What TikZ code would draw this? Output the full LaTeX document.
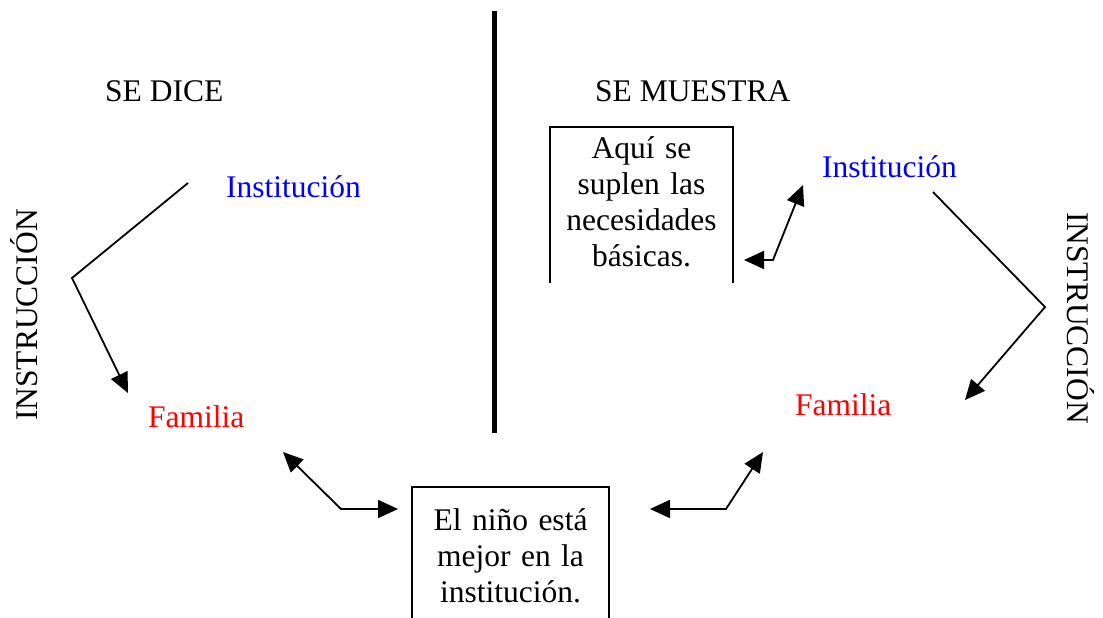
\documentclass[tikz,border=0pt]{standalone}
\usepackage{fontspec}
\setmainfont{Liberation Serif}
\usetikzlibrary{arrows.meta}
\tikzset{
  lbl/.style={inner sep=0pt, font=\fontsize{31.5}{36}\selectfont},
  boxtxt/.style={lbl, align=center},
  frame/.style={line width=2pt},
  conn/.style={line width=1.8pt, line join=miter},
  onehead/.style={-{Triangle[length=20pt,width=18pt]}},
  twohead/.style={{Triangle[length=20pt,width=18pt]}-{Triangle[length=20pt,width=18pt]}},
}
\begin{document}
\begin{tikzpicture}[x=1pt,y=-1pt]
\useasboundingbox (0,0) rectangle (1103,618);
% divider
\draw[line width=5pt] (494.5,11) -- (494.5,433);
% headings
\node[lbl, anchor=base west] (dice) at (105,101) {SE DICE};
\node[lbl, anchor=base west] (muestra) at (595,102) {SE MUESTRA};
\node[lbl, anchor=base west, text=blue] (instL) at (226,197) {Institución};
\node[lbl, anchor=base west, text=red] (famL) at (148,427) {Familia};
\node[lbl, anchor=base west, text=blue] (instR) at (822,177) {Institución};
\node[lbl, anchor=base west, text=red] (famR) at (795,415) {Familia};
\node[lbl, anchor=base west, rotate=90] (instrL) at (37,421) {INSTRUCCIÓN};
\node[lbl, anchor=base west, rotate=-90] (instrR) at (1067,212) {INSTRUCCIÓN};
% boxes, open at the bottom
\node[boxtxt, text width=183pt, inner ysep=9pt, anchor=north] (suplen) at (641.5,127) {Aquí se\\suplen las\\necesidades\\básicas.};
\draw[frame] ([yshift=-156pt]suplen.north west) |- (suplen.north east) -- ([yshift=-156pt]suplen.north east);
\node[boxtxt, text width=197pt, inner ysep=21pt, anchor=north] (nino) at (510.5,487) {El niño está\\mejor en la\\institución.};
\draw[frame] ([yshift=-131pt]nino.north west) |- (nino.north east) -- ([yshift=-131pt]nino.north east);
% connector ends
\coordinate (instLout) at (188,183);
\coordinate (bendL) at (72,278);
\coordinate (famLin) at (128,393);
\coordinate (instRout) at (933,192);
\coordinate (bendR) at (1045,307);
\coordinate (famRin) at (965,400);
\coordinate (suplenin) at (744,260);
\coordinate (bendS) at (773,260);
\coordinate (instRin) at (803,185);
\coordinate (famLback) at (283,452);
\coordinate (bendNL) at (341,509);
\coordinate (ninoinL) at (398,509);
\coordinate (ninoinR) at (650,509);
\coordinate (bendNR) at (726,509);
\coordinate (famRback) at (763,452);
% connectors
\draw[conn, onehead] (instLout) -- (bendL) -- (famLin);
\draw[conn, onehead] (instRout) -- (bendR) -- (famRin);
\draw[conn, twohead] (suplenin) -- (bendS) -- (instRin);
\draw[conn, twohead] (famLback) -- (bendNL) -- (ninoinL);
\draw[conn, twohead] (ninoinR) -- (bendNR) -- (famRback);
\end{tikzpicture}
\end{document}
